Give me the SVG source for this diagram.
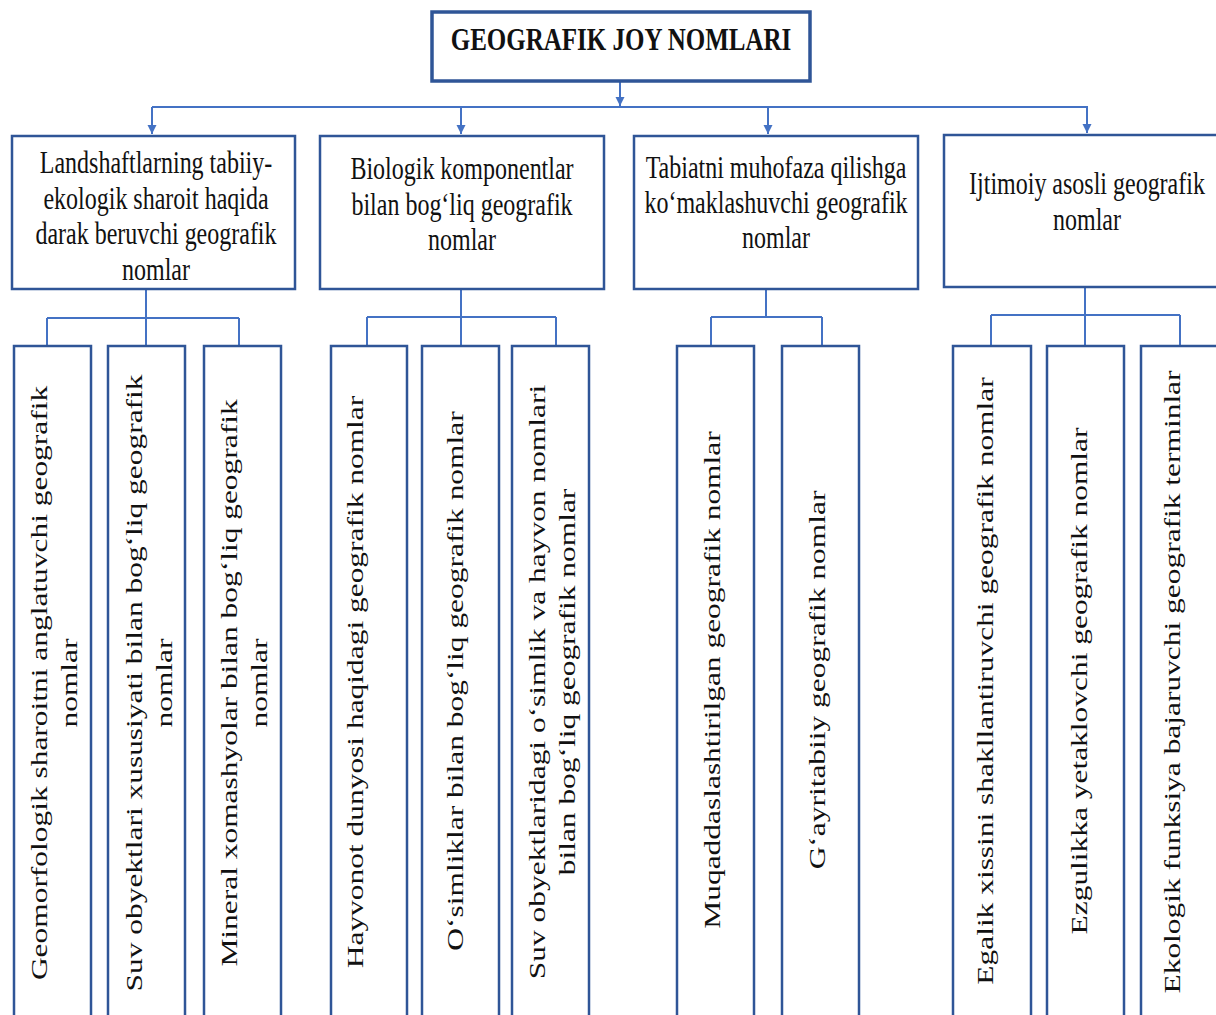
<svg xmlns="http://www.w3.org/2000/svg" width="1216" height="1015" viewBox="0 0 1216 1015">
<style>
.bg{fill:#ffffff}
.box{fill:#ffffff;stroke:#2F5597;stroke-width:2.5}
.top{fill:#ffffff;stroke:#2F5597;stroke-width:3.5}
.t{font-family:"Liberation Serif","Times New Roman",serif;font-size:24px;fill:#111111;text-anchor:middle}
.tb{font-family:"Liberation Serif","Times New Roman",serif;font-size:25px;font-weight:bold;fill:#111111;text-anchor:middle}
.c{fill:none;stroke:#4472C4;stroke-width:2}
</style>
<defs>
<marker id="ah" markerUnits="userSpaceOnUse" markerWidth="10" markerHeight="10" refX="9" refY="5" orient="auto">
<path d="M0,0.5 L9,5 L0,9.5 z" fill="#4472C4"/>
</marker>
</defs>
<rect class="bg" x="0" y="0" width="1216" height="1015"/>

<g id="connectors">
<path class="c" d="M620,82 V106" marker-end="url(#ah)"/>
<path class="c" d="M152,107 H1088"/>
<path class="c" d="M152,107 V134" marker-end="url(#ah)"/>
<path class="c" d="M461,107 V134" marker-end="url(#ah)"/>
<path class="c" d="M768,107 V134" marker-end="url(#ah)"/>
<path class="c" d="M1087,107 V133" marker-end="url(#ah)"/>
<path class="c" d="M146,290 V318 M47,318 H239 M47,318 V346 M146,318 V346 M239,318 V346"/>
<path class="c" d="M461,290 V317 M367,317 H556 M367,317 V346 M461,317 V346 M556,317 V346"/>
<path class="c" d="M766,290 V317 M711,317 H822 M711,317 V346 M822,317 V346"/>
<path class="c" d="M1085,287 V315 M991,315 H1180 M991,315 V346 M1085,315 V346 M1180,315 V346"/>
</g>

<g id="root">
<rect class="top" x="432" y="12" width="378" height="69"/>
<text class="tb" transform="translate(621,50) scale(1,1.28)">GEOGRAFIK JOY NOMLARI</text>
</g>

<g id="cat1">
<rect class="box" x="12" y="136" width="283" height="153"/>
<text class="t" transform="translate(156,173) scale(1,1.28)">Landshaftlarning tabiiy-</text>
<text class="t" transform="translate(156,209) scale(1,1.28)">ekologik sharoit haqida</text>
<text class="t" transform="translate(156,244) scale(1,1.28)">darak beruvchi geografik</text>
<text class="t" transform="translate(156,280) scale(1,1.28)">nomlar</text>
</g>

<g id="cat2">
<rect class="box" x="320" y="136" width="284" height="153"/>
<text class="t" transform="translate(462,179) scale(1,1.28)">Biologik komponentlar</text>
<text class="t" transform="translate(462,215) scale(1,1.28)">bilan bog‘liq geografik</text>
<text class="t" transform="translate(462,250) scale(1,1.28)">nomlar</text>
</g>

<g id="cat3">
<rect class="box" x="634" y="136" width="284" height="153"/>
<text class="t" transform="translate(776,178) scale(1,1.28)">Tabiatni muhofaza qilishga</text>
<text class="t" transform="translate(776,213) scale(1,1.28)">ko‘maklashuvchi geografik</text>
<text class="t" transform="translate(776,248) scale(1,1.28)">nomlar</text>
</g>

<g id="cat4">
<rect class="box" x="944" y="135" width="290" height="152"/>
<text class="t" transform="translate(1087,194) scale(1,1.28)">Ijtimoiy asosli geografik</text>
<text class="t" transform="translate(1087,230) scale(1,1.28)">nomlar</text>
</g>

<g id="sub1">
<rect class="box" x="14" y="346" width="77" height="690"/>
<text class="t" transform="translate(47,683) scale(1,1.31) rotate(-90)">Geomorfologik sharoitni anglatuvchi geografik</text>
<text class="t" transform="translate(77,683) scale(1,1.31) rotate(-90)">nomlar</text>
</g>
<g id="sub2">
<rect class="box" x="108" y="346" width="77" height="690"/>
<text class="t" transform="translate(142,683) scale(1,1.31) rotate(-90)">Suv obyektlari xususiyati bilan bog‘liq geografik</text>
<text class="t" transform="translate(172,683) scale(1,1.31) rotate(-90)">nomlar</text>
</g>
<g id="sub3">
<rect class="box" x="204" y="346" width="77" height="690"/>
<text class="t" transform="translate(237,683) scale(1,1.31) rotate(-90)">Mineral xomashyolar bilan bog‘liq geografik</text>
<text class="t" transform="translate(267,683) scale(1,1.31) rotate(-90)">nomlar</text>
</g>
<g id="sub4">
<rect class="box" x="331" y="346" width="76" height="690"/>
<text class="t" transform="translate(363,682) scale(1,1.31) rotate(-90)">Hayvonot dunyosi haqidagi  geografik nomlar</text>
</g>
<g id="sub5">
<rect class="box" x="422" y="346" width="77" height="690"/>
<text class="t" transform="translate(463,681) scale(1,1.31) rotate(-90)">O‘simliklar bilan bog‘liq geografik nomlar</text>
</g>
<g id="sub6">
<rect class="box" x="512" y="346" width="77" height="690"/>
<text class="t" transform="translate(545,682) scale(1,1.31) rotate(-90)">Suv obyektlaridagi o‘simlik va hayvon nomlari</text>
<text class="t" transform="translate(575,682) scale(1,1.31) rotate(-90)">bilan bog‘liq geografik nomlar</text>
</g>
<g id="sub7">
<rect class="box" x="677" y="346" width="77" height="690"/>
<text class="t" transform="translate(720,680) scale(1,1.31) rotate(-90)">Muqaddaslashtirilgan geografik nomlar</text>
</g>
<g id="sub8">
<rect class="box" x="782" y="346" width="77" height="690"/>
<text class="t" transform="translate(825,680) scale(1,1.31) rotate(-90)">G‘ayritabiiy geografik nomlar</text>
</g>
<g id="sub9">
<rect class="box" x="953" y="346" width="78" height="690"/>
<text class="t" transform="translate(993,681) scale(1,1.31) rotate(-90)">Egalik xissini shakllantiruvchi geografik nomlar</text>
</g>
<g id="sub10">
<rect class="box" x="1047" y="346" width="77" height="690"/>
<text class="t" transform="translate(1087,681) scale(1,1.31) rotate(-90)">Ezgulikka yetaklovchi geografik nomlar</text>
</g>
<g id="sub11">
<rect class="box" x="1141" y="346" width="90" height="690"/>
<text class="t" transform="translate(1180,682) scale(1,1.31) rotate(-90)">Ekologik funksiya bajaruvchi geografik terminlar</text>
</g>
</svg>
